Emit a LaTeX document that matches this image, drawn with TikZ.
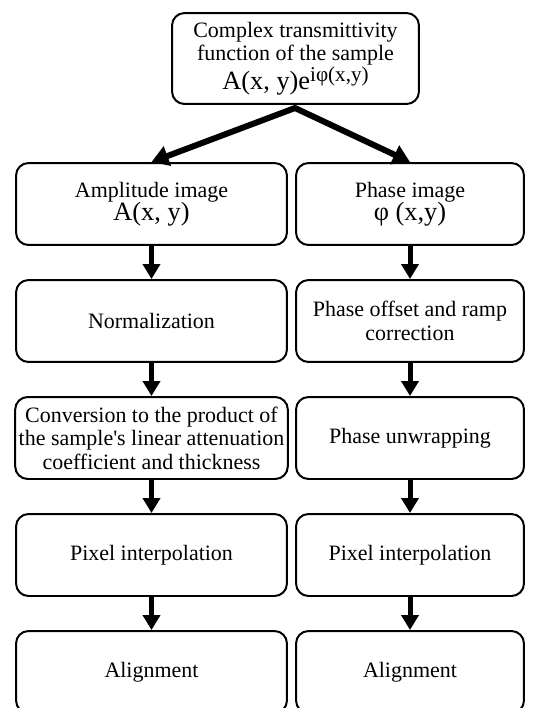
\documentclass[tikz,border=0pt]{standalone}
\usepackage{fontspec}
\setmainfont{Liberation Serif}
\usetikzlibrary{arrows.meta}
\tikzset{
  passo/.style={draw, line width=0.04cm, rounded corners=0.25cm, align=center,
    minimum height=1.64cm, inner sep=2pt, font=\fontsize{12.5}{13.4}\selectfont},
  sinistra/.style={passo, minimum width=5.42cm},
  destra/.style={passo, minimum width=4.56cm},
  freccia/.style={line width=0.1cm, -{Triangle[length=0.3cm,width=0.34cm]}},
  diagonale/.style={line width=0.12cm, line join=miter,
    {Triangle[length=0.34cm,width=0.4cm]}-{Triangle[length=0.34cm,width=0.4cm]}}
}
\newcommand{\formula}[1]{{\fontsize{15}{15}\selectfont #1}}

\begin{document}
\begin{tikzpicture}[x=0.02cm, y=-0.02cm]
  \useasboundingbox (0,0) rectangle (532,708);

  % --- funzione di trasmissione del campione ---------------------------------
  \node[passo, minimum width=4.94cm, minimum height=1.82cm] (sorgente) at (295.5,58.5)
    {Complex transmittivity\\function of the sample\\
     \formula{A(x, y)e\raisebox{0.6ex}{\fontsize{12}{12}\selectfont iφ(x,y)}}};

  % --- colonna dell'ampiezza -------------------------------------------------
  \foreach \testo [count=\i] in {{Amplitude image\\\formula{A(x, y)}}, Normalization,
      {Conversion to the product of\\the sample\textquotesingle s linear attenuation\\coefficient and thickness},
      Pixel interpolation, Alignment}
    \node[sinistra] (amp\i) at (151.5,87+117*\i) {\testo};

  % --- colonna della fase ----------------------------------------------------
  \foreach \testo [count=\i] in {{Phase image\\\formula{φ (x,y)}},
      {Phase offset and ramp\\correction}, Phase unwrapping,
      Pixel interpolation, Alignment}
    \node[destra] (fase\i) at (410,87+117*\i) {\testo};

  % --- frecce ----------------------------------------------------------------
  \coordinate (vertice) at (295,108);
  \draw[diagonale] (amp1.north) -- (vertice) -- (fase1.north);
  \foreach \i [evaluate=\i as \j using int(\i+1)] in {1,...,4} {
    \draw[freccia] (amp\i) -- (amp\j);
    \draw[freccia] (fase\i) -- (fase\j);
  }

\end{tikzpicture}
\end{document}
